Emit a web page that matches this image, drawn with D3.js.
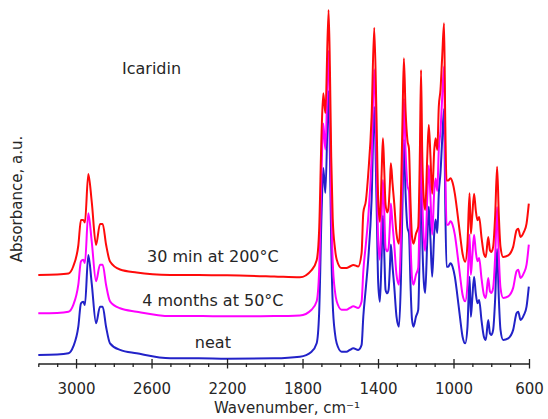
<!DOCTYPE html>
<html>
<head>
<meta charset="utf-8">
<script src="https://cdn.jsdelivr.net/npm/d3@7"></script>
<style>
  body { margin: 0; background: #fff; }
  text { font-family: "DejaVu Sans", Verdana, sans-serif; fill: #262626; }
</style>
</head>
<body>
<div id="chart"></div>
<script>
// IR spectra of icaridin (absorbance, a.u.)
var wavenumbers = [3200, 3100, 3040, 3015, 2988, 2974, 2962, 2953, 2935, 2917, 2894, 2873, 2859, 2841, 2820,
  2767, 2679, 2500, 2350, 2200, 1950, 1814, 1752, 1725, 1712, 1699, 1690, 1679, 1662, 1655, 1648, 1640, 1628,
  1619, 1593, 1567, 1549, 1531, 1505, 1487, 1478, 1464, 1452, 1434, 1420, 1408, 1399, 1390, 1381, 1374, 1367,
  1360, 1351, 1344, 1337, 1332, 1323, 1314, 1302, 1289, 1279, 1270, 1263, 1254, 1244, 1236, 1228, 1220, 1212,
  1199, 1187, 1178, 1172, 1166, 1157, 1150, 1139, 1131, 1122, 1113, 1102, 1095, 1086, 1078, 1069, 1060, 1050,
  1044, 1037, 1028, 1016, 1005, 993, 981, 966, 952, 938, 926, 915, 908, 901, 891, 882, 873, 864, 852, 839,
  829, 816, 807, 799, 790, 779, 769, 760, 751, 737, 710, 684, 666, 657, 645, 627, 613, 601];

var neat = [0.043, 0.045, 0.051, 0.084, 0.184, 0.301, 0.309, 0.293, 0.543, 0.401, 0.201, 0.284, 0.284, 0.184, 0.101,
  0.068, 0.051, 0.026, 0.026, 0.024, 0.026, 0.034, 0.059, 0.101, 0.251, 0.753, 0.978, 0.853, 1.363, 1.05, 0.60, 0.30, 0.15,
  0.101, 0.059, 0.059, 0.068, 0.076, 0.068, 0.093, 0.234, 0.384, 0.518, 0.818, 1.284, 0.818, 0.403, 0.309, 0.534, 0.740, 0.553,
  0.368, 0.351, 0.368, 0.484, 0.595, 0.484, 0.384, 0.234, 0.184, 0.403, 0.818, 1.12, 0.85, 0.68, 0.65, 0.40, 0.22, 0.184,
  0.234, 0.268, 0.653, 1.053, 0.653, 0.403, 0.353, 0.618, 0.784, 0.618, 0.434, 0.653, 0.72, 0.653, 0.85, 0.953, 1.118, 1.273,
  0.818, 0.484, 0.484, 0.501, 0.484, 0.434, 0.351, 0.234, 0.134, 0.101, 0.184, 0.434, 0.234, 0.318, 0.434, 0.351, 0.301, 0.318, 0.218, 0.134,
  0.118, 0.218, 0.151, 0.143, 0.168, 0.33, 0.573, 0.33, 0.168, 0.118, 0.126, 0.168, 0.251, 0.259, 0.218, 0.243, 0.284, 0.384];

var fourMonths = [0.041, 0.043, 0.049, 0.082, 0.184, 0.301, 0.309, 0.293, 0.541, 0.401, 0.201, 0.284, 0.284, 0.184, 0.101,
  0.066, 0.049, 0.027, 0.027, 0.026, 0.027, 0.030, 0.059, 0.101, 0.251, 0.760, 0.990, 0.860, 1.354, 1.05, 0.60, 0.30, 0.15,
  0.101, 0.059, 0.059, 0.068, 0.076, 0.068, 0.100, 0.250, 0.390, 0.518, 0.818, 1.261, 0.818, 0.403, 0.309, 0.534, 0.708, 0.553,
  0.368, 0.351, 0.368, 0.484, 0.590, 0.484, 0.384, 0.234, 0.184, 0.403, 0.818, 1.115, 0.85, 0.68, 0.65, 0.40, 0.22, 0.184,
  0.234, 0.268, 0.653, 1.053, 0.653, 0.403, 0.353, 0.618, 0.780, 0.618, 0.434, 0.653, 0.715, 0.653, 0.86, 0.953, 1.118, 1.275,
  0.818, 0.484, 0.484, 0.501, 0.484, 0.434, 0.351, 0.234, 0.134, 0.101, 0.184, 0.434, 0.234, 0.318, 0.434, 0.351, 0.301, 0.318, 0.218, 0.134,
  0.118, 0.218, 0.151, 0.143, 0.168, 0.33, 0.573, 0.33, 0.168, 0.118, 0.126, 0.168, 0.251, 0.259, 0.218, 0.243, 0.284, 0.384];

var thirtyMin = [0.028, 0.030, 0.035, 0.070, 0.175, 0.302, 0.303, 0.290, 0.533, 0.395, 0.178, 0.283, 0.283, 0.180, 0.095,
  0.055, 0.040, 0.028, 0.027, 0.026, 0.020, 0.016, 0.052, 0.101, 0.251, 0.740, 0.936, 0.836, 1.353, 1.07, 0.62, 0.31, 0.16,
  0.105, 0.062, 0.062, 0.070, 0.078, 0.070, 0.138, 0.338, 0.400, 0.530, 0.818, 1.264, 0.818, 0.403, 0.294, 0.534, 0.711, 0.553,
  0.380, 0.340, 0.368, 0.484, 0.586, 0.484, 0.384, 0.234, 0.184, 0.403, 0.818, 1.111, 0.85, 0.70, 0.66, 0.40, 0.22, 0.184,
  0.234, 0.268, 0.653, 1.053, 0.653, 0.403, 0.353, 0.618, 0.778, 0.618, 0.434, 0.653, 0.711, 0.653, 0.869, 0.953, 1.118, 1.286,
  0.818, 0.500, 0.500, 0.511, 0.490, 0.434, 0.351, 0.234, 0.134, 0.094, 0.184, 0.436, 0.234, 0.318, 0.434, 0.351, 0.301, 0.318, 0.218, 0.134,
  0.118, 0.218, 0.151, 0.143, 0.168, 0.33, 0.569, 0.33, 0.168, 0.118, 0.126, 0.168, 0.251, 0.259, 0.218, 0.243, 0.284, 0.384];

var sampleNames = ["neat", "4 months at 50\u00b0C", "30 min at 200\u00b0C"];
var sampleOffsets = [0, 0.21, 0.415];   // vertical stacking of the spectra
var sampleColors = ["#2222c8", "#ff00ff", "#ff0a0a"];
var majorTicks = [3000, 2600, 2200, 1800, 1400, 1000, 600];

var width = 548, height = 419;

var x = d3.scaleLinear()
    .domain([3200, 600])
    .range([38.3, 529]);

var y = d3.scaleLinear()
    .domain([0, 1.8])
    .range([363.5, 3.5]);

var svg = d3.select("#chart").append("svg")
    .attr("width", width)
    .attr("height", height);

var series = [neat, fourMonths, thirtyMin].map(function(vals, i) {
  return {
    name: sampleNames[i],
    color: sampleColors[i],
    offset: sampleOffsets[i],
    points: vals.map(function(v, j) { return {w: wavenumbers[j], a: v}; })
  };
});

var line = d3.line()
    .curve(d3.curveMonotoneX)
    .x(function(d) { return x(d.w); });

series.forEach(function(s) {
  svg.append("path")
      .datum(s.points)
      .attr("fill", "none")
      .attr("stroke", s.color)
      .attr("stroke-width", 2)
      .attr("stroke-linejoin", "round")
      .attr("d", line.y(function(d) { return y(d.a + s.offset); }));
});

// sample labels sit just above each baseline
series.forEach(function(s) {
  svg.append("text")
      .attr("x", x(2275))
      .attr("y", y(s.offset + 0.026) - (s.offset > 0.3 ? 13 : 10))
      .attr("text-anchor", "middle")
      .style("font-size", "16px")
      .text(s.name);
});

// minor ticks every 100 cm-1
var minorTicks = d3.range(700, 3201, 100).filter(function(t) { return majorTicks.indexOf(t) < 0; });

svg.append("g")
    .attr("class", "x minor")
    .attr("transform", "translate(0," + y(0) + ")")
    .call(d3.axisBottom(x).tickValues(minorTicks).tickSize(3.5).tickFormat(""))
    .call(function(g) { g.select(".domain").remove(); })
    .selectAll("line")
    .attr("stroke", "#222")
    .attr("stroke-width", 1.3);

var xAxis = d3.axisBottom(x)
    .tickValues(majorTicks)
    .tickSizeInner(5)
    .tickSizeOuter(0)
    .tickPadding(15)
    .tickFormat(d3.format("d"));

var gx = svg.append("g")
    .attr("class", "x axis")
    .attr("transform", "translate(0," + y(0) + ")")
    .call(xAxis);

gx.select(".domain")
    .attr("stroke", "#222")
    .attr("stroke-width", 1.5);

gx.selectAll(".tick line")
    .attr("y1", -4.5)
    .attr("stroke", "#222")
    .attr("stroke-width", 1.3);

gx.selectAll(".tick text")
    .style("font-size", "15px")
    .style("font-family", "'DejaVu Sans', Verdana, sans-serif")
    .attr("fill", "#262626");

svg.append("text")
    .attr("x", 287)
    .attr("y", 413)
    .attr("text-anchor", "middle")
    .style("font-size", "15px")
    .text("Wavenumber, cm\u207b\u00b9");

svg.append("text")
    .attr("transform", "translate(22,199) rotate(-90)")
    .attr("text-anchor", "middle")
    .style("font-size", "15px")
    .text("Absorbance, a.u.");

svg.append("text")
    .attr("x", 122)
    .attr("y", 74)
    .style("font-size", "16px")
    .text("Icaridin");
</script>
</body>
</html>
